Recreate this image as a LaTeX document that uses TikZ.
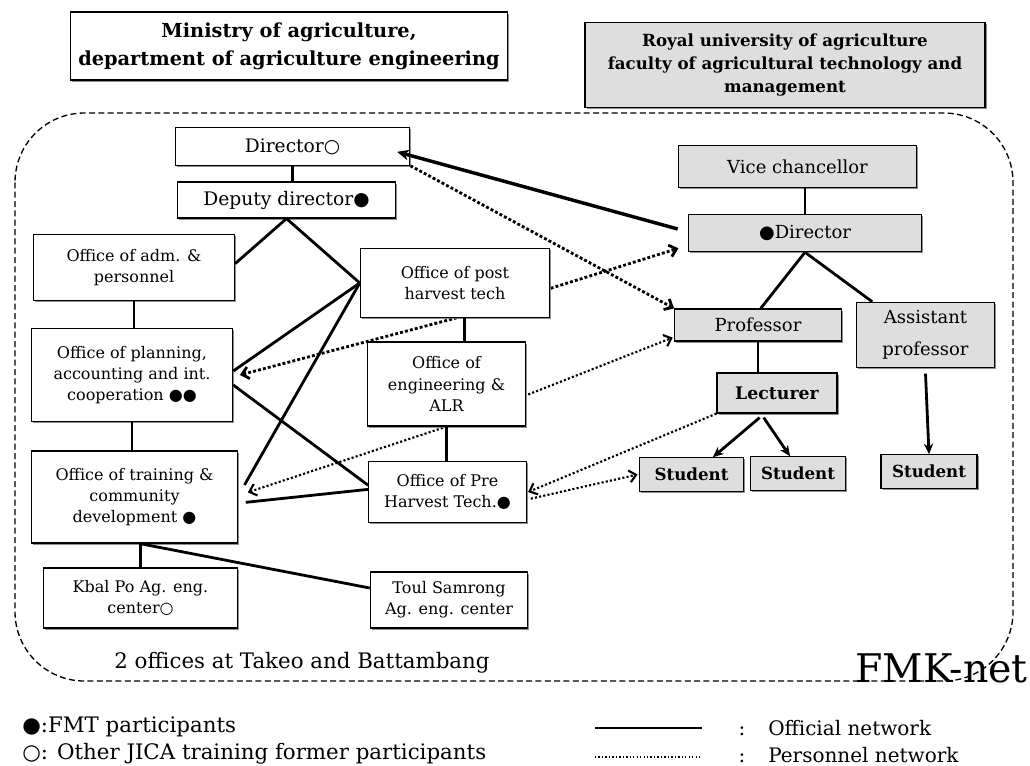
\documentclass[tikz,border=0pt]{standalone}
\usepackage{fontspec}
\setmainfont{DejaVu Serif}
\newfontfamily\symfont{DejaVu Sans}
\usetikzlibrary{arrows.meta, shadows, backgrounds}

\newcommand{\fmt}{{\symfont ●}}
\newcommand{\jica}{{\symfont ○}}

\tikzset{
  office/.style={draw, fill=white, line width=0.9pt, align=center, inner sep=2pt,
    font=\fontsize{12}{16}\selectfont,
    drop shadow={shadow xshift=1.2pt, shadow yshift=-1.2pt, fill=black!55, opacity=0.8}},
  univ/.style={office, fill=black!13, font=\fontsize{13.5}{18}\selectfont},
  official/.style={line width=2.1pt},
  personnel/.style={line width=2.1pt, dash pattern=on 2.2pt off 1.6pt},
  personnel thin/.style={line width=1.6pt, dash pattern=on 1.6pt off 1.6pt},
  barb/.style={-{Straight Barb[length=5pt,width=9pt]}},
  barbs/.style={{Straight Barb[length=5pt,width=9pt]}-{Straight Barb[length=5pt,width=9pt]}},
}

\begin{document}
\begin{tikzpicture}[x=0.75pt, y=-0.75pt]
\useasboundingbox (0,0) rectangle (1030,765);

% headings
\node[office, minimum width=328pt, minimum height=51pt, font=\fontsize{14.5}{21}\selectfont\bfseries] (mtitle) at (289,46)
  {Ministry of agriculture,\\department of agriculture engineering};
\node[univ, minimum width=300pt, minimum height=64pt, font=\fontsize{12.5}{17.5}\selectfont\bfseries] (utitle) at (785,65)
  {Royal university of agriculture\\faculty of agricultural technology and\\management};

% ministry side
\node[office, minimum width=176pt, minimum height=28pt, font=\fontsize{14}{16}\selectfont] (mdir) at (292.5,146.5) {Director\jica};
\node[office, minimum width=163pt, minimum height=27pt, font=\fontsize{14}{16}\selectfont] (dep) at (286.5,200) {Deputy director\fmt};
\node[office, minimum width=151pt, minimum height=49pt] (adm) at (134,267.5) {Office of adm. \&\\personnel};
\node[office, minimum width=151pt, minimum height=70pt] (plan) at (132,375) {Office of planning,\\accounting and int.\\cooperation \fmt\fmt};
\node[office, minimum width=154pt, minimum height=69pt] (train) at (134.5,497) {Office of training \&\\community\\development \fmt};
\node[office, minimum width=145pt, minimum height=45pt] (kbal) at (140.5,598) {Kbal Po Ag. eng.\\center\jica};
\node[office, minimum width=118pt, minimum height=42pt] (toul) at (449,600) {Toul Samrong\\Ag. eng. center};
\node[office, minimum width=142pt, minimum height=52pt] (post) at (455,283) {Office of post\\harvest tech};
\node[office, minimum width=119pt, minimum height=63pt] (eng) at (446.5,384) {Office of\\engineering \&\\ALR};
\node[office, minimum width=118pt, minimum height=46pt] (pre) at (447.5,492) {Office of Pre\\Harvest Tech.\fmt};

% university side
\node[univ, minimum width=179pt, minimum height=32pt] (vice) at (797.5,166.5) {Vice chancellor};
\node[univ, minimum width=175pt, minimum height=28pt] (udir) at (805,233) {\fmt Director};
\node[univ, minimum width=125pt, minimum height=24pt] (prof) at (758,325) {Professor};
\node[univ, minimum width=103pt, minimum height=49pt, font=\fontsize{13.5}{24}\selectfont] (asst) at (925.5,335) {Assistant\\professor};
\node[univ, minimum width=90pt, minimum height=30pt, font=\fontsize{13}{16}\selectfont\bfseries] (lect) at (777,393) {Lecturer};
\node[univ, minimum width=78pt, minimum height=25pt, font=\fontsize{12.5}{14}\selectfont\bfseries] (stu1) at (691.5,474.5) {Student};
\node[univ, minimum width=71pt, minimum height=25pt, font=\fontsize{12.5}{14}\selectfont\bfseries] (stu2) at (798,473.5) {Student};
\node[univ, minimum width=72pt, minimum height=25pt, font=\fontsize{12.5}{14}\selectfont\bfseries] (stu3) at (929,471.5) {Student};

\node[font=\fontsize{16}{18}\selectfont] (offices) at (302,663) {2 offices at Takeo and Battambang};

% official network
\draw[official] (mdir.south) -- (mdir.south |- dep.north);
\draw[official] (dep.south) -- ([yshift=3pt]adm.east);
\draw[official] (dep.south) -- (post.west);
\draw[official] (adm.south) -- (adm.south |- plan.north);
\draw[official] (plan.south) -- (plan.south |- train.north);
\draw[official] (post.west) -- ([yshift=3pt]plan.east);
\draw[official] (post.west) -- ([xshift=5pt,yshift=9pt]train.east);
\draw[official] ([yshift=-7.5pt]plan.east) -- ([yshift=5pt]pre.west);
\draw[official] ([xshift=6pt,yshift=-4pt]train.east) -- ([yshift=2pt]pre.west);
\draw[official] ([xshift=7pt]post.south) -- ([xshift=7pt]post.south |- eng.north);
\draw[official] (eng.south) -- (eng.south |- pre.north);
\draw[official] (kbal.north) -- (kbal.north |- train.south);
\draw[official] ([xshift=4pt]train.south) -- ([yshift=9pt]toul.west);
\draw[official] (udir.north) -- (udir.north |- vice.south);
\draw[official] (udir.south) -- ([xshift=2pt]prof.north);
\draw[official] (udir.south) -- ([xshift=12pt]asst.north west);
\draw[official] (prof.south) -- (prof.south |- lect.north);
\draw[official, -{Stealth[length=8pt,width=7pt]}] ([xshift=-13pt,yshift=-3pt]lect.south) -- ([xshift=16pt]stu1.north);
\draw[official, -{Stealth[length=8pt,width=7pt]}] ([xshift=-10pt,yshift=-3pt]lect.south) -- ([xshift=-6pt]stu2.north);
\draw[official, -{Stealth[length=8pt,width=7pt]}] ([yshift=-4pt]asst.south) -- (stu3.north);
\draw[line width=2.6pt, -{Stealth[length=9pt,width=8pt]}] ([xshift=-7.5pt,yshift=3pt]udir.west) -- ([xshift=-10pt,yshift=-4pt]mdir.east);

% personnel network
\draw[personnel, barb] (mdir.south east) -- (prof.north west);
\begin{scope}[on background layer]
  \draw[personnel, barbs] ([xshift=5pt]plan.east) -- (post.south) -- ([xshift=-7pt,yshift=3pt]udir.south west);
  \draw[personnel thin, barbs] ([xshift=7.5pt,yshift=3.5pt]train.east) -- (eng.south) -- ([xshift=-1pt,yshift=3pt]prof.south west);
  \draw[dash pattern=on 4.5pt off 2.5pt, line width=1pt, rounded corners=52pt] (15,113) rectangle (1013,681);
\end{scope}
\draw[personnel thin, barb] (lect.south west) -- ([xshift=1pt]pre.east);
\draw[personnel thin, barb] ([xshift=3pt,yshift=-5pt]pre.east) -- ([xshift=-1pt]stu1.west);

\node[anchor=base east, font=\fontsize{29.6}{32}\selectfont, inner sep=0pt] (fmk) at (1028,682) {FMK-net};

% legend
\node[anchor=base west, font=\fontsize{16}{18}\selectfont, inner sep=0pt] (keyfmt) at (22,732) {\fmt:FMT participants};
\node[anchor=base west, font=\fontsize{16}{18}\selectfont, inner sep=0pt] (keyjica) at (22,759) {\jica: Other JICA training former participants};
\coordinate (offA) at (595,728);
\coordinate (offB) at (702,728);
\coordinate (perA) at (595,757);
\coordinate (perB) at (702,757);
\draw[line width=2.2pt] (offA) -- (offB);
\draw[line width=1.3pt, dash pattern=on 1pt off 1.6pt] (perA) -- (perB);
\node[anchor=base, font=\fontsize{15}{18}\selectfont, inner sep=0pt] (colA) at (742,735) {:};
\node[anchor=base, font=\fontsize{15}{18}\selectfont, inner sep=0pt] (colB) at (742,762) {:};
\node[anchor=base west, font=\fontsize{15}{18}\selectfont, inner sep=0pt] (keyoff) at (768,735) {Official network};
\node[anchor=base west, font=\fontsize{15}{18}\selectfont, inner sep=0pt] (keyper) at (768,762) {Personnel network};
\end{tikzpicture}
\end{document}
